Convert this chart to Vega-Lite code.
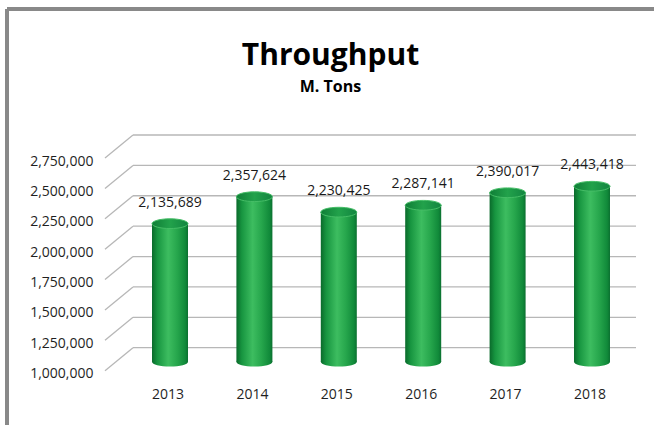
{
  "$schema": "https://vega.github.io/schema/vega-lite/v6.json",
  "width": 647,
  "height": 416,
  "autosize": {"type": "none"},
  "padding": {"left": 7, "top": 9, "right": 0, "bottom": 0},
  "background": "white",
  "title": {
    "text": "Throughput",
    "subtitle": "M. Tons",
    "anchor": "middle",
    "frame": "group",
    "offset": -86,
    "font": "Open Sans",
    "fontSize": 30,
    "fontWeight": "bold",
    "color": "#000000",
    "subtitleFont": "Open Sans",
    "subtitleFontSize": 16,
    "subtitleFontWeight": "bold",
    "subtitleColor": "#000000",
    "subtitlePadding": 8
  },
  "datasets": {
    "main": [
      {"year": "2013", "value": 2135689},
      {"year": "2014", "value": 2357624},
      {"year": "2015", "value": 2230425},
      {"year": "2016", "value": 2287141},
      {"year": "2017", "value": 2390017},
      {"year": "2018", "value": 2443418}
    ],
    "ticks": [
      {"v": 1000000}, {"v": 1250000}, {"v": 1500000}, {"v": 1750000},
      {"v": 2000000}, {"v": 2250000}, {"v": 2500000}, {"v": 2750000}
    ]
  },
  "resolve": {"scale": {"x": "independent"}},
  "layer": [
    {
      "data": {"name": "ticks"},
      "mark": {"type": "rule", "stroke": "#b7b7b7", "strokeWidth": 1.3},
      "encoding": {
        "x": {"datum": 0, "type": "quantitative", "scale": {"domain": [0, 1], "range": [126, 629]}, "axis": null},
        "x2": {"datum": 1},
        "y": {
          "field": "v", "type": "quantitative",
          "scale": {"domain": [1000000, 2750000], "range": [338.7, 126], "nice": false, "zero": false},
          "axis": {
            "values": [1000000, 1250000, 1500000, 1750000, 2000000, 2250000, 2500000, 2750000],
            "format": ",",
            "labelExpr": "format(datum.value, ',')",
            "title": null,
            "offset": -86,
            "ticks": false,
            "domain": false,
            "grid": false,
            "labelPadding": 0,
            "labelOffset": 26,
            "labelFont": "Open Sans",
            "labelFontSize": 14,
            "labelColor": "#1f1f1f",
            "labelOverlap": false
          }
        },
        "y2": {"field": "v"}
      }
    },
    {
      "data": {"name": "ticks"},
      "mark": {"type": "rule", "stroke": "#b7b7b7", "strokeWidth": 1.3, "x2Offset": -28, "y2Offset": 23},
      "encoding": {
        "x": {"datum": 0, "type": "quantitative", "scale": {"domain": [0, 1], "range": [126, 629]}, "axis": null},
        "x2": {"datum": 0},
        "y": {"field": "v", "type": "quantitative"},
        "y2": {"field": "v"}
      }
    },
    {
      "data": {"name": "main"},
      "layer": [
        {
          "mark": {
            "type": "point",
            "shape": "M-1,0A1,0.27,0,1,1,1,0A1,0.27,0,1,1,-1,0Z",
            "size": 1296,
            "filled": true,
            "opacity": 1,
            "yOffset": 14,
            "strokeWidth": 0,
            "fill": {"gradient": "linear", "x1": 0, "x2": 1, "y1": 0, "y2": 0, "stops": [
              {"offset": 0, "color": "#0a6a2b"}, {"offset": 0.15, "color": "#179540"},
              {"offset": 0.45, "color": "#3dbd60"}, {"offset": 0.7, "color": "#26a64c"},
              {"offset": 0.92, "color": "#118a3a"}, {"offset": 1, "color": "#0b7030"}]}
          },
          "encoding": {
            "x": {"field": "year", "type": "ordinal", "scale": {"range": [120.8, 627.2], "paddingInner": 0, "paddingOuter": 0}, "axis": {
              "title": null, "ticks": false, "domain": false, "grid": false,
              "offset": -31, "labelPadding": 0, "labelBaseline": "middle", "labelOffset": -2,
              "labelFont": "Open Sans", "labelFontSize": 14, "labelColor": "#1f1f1f", "labelAngle": 0
            }},
            "y": {"datum": 1000000, "type": "quantitative"}
          }
        },
        {
          "mark": {
            "type": "bar",
            "width": 36,
            "yOffset": 14,
            "y2Offset": 14,
            "fill": {"gradient": "linear", "x1": 0, "x2": 1, "y1": 0, "y2": 0, "stops": [
              {"offset": 0, "color": "#0a6a2b"}, {"offset": 0.15, "color": "#179540"},
              {"offset": 0.45, "color": "#3dbd60"}, {"offset": 0.7, "color": "#26a64c"},
              {"offset": 0.92, "color": "#118a3a"}, {"offset": 1, "color": "#0b7030"}]}
          },
          "encoding": {
            "x": {"field": "year", "type": "ordinal"},
            "y": {"field": "value", "type": "quantitative"},
            "y2": {"datum": 1000000}
          }
        },
        {
          "mark": {
            "type": "point",
            "shape": "M-1,0A1,0.27,0,1,1,1,0A1,0.27,0,1,1,-1,0Z",
            "size": 1296,
            "filled": true,
            "opacity": 1,
            "yOffset": 14,
            "stroke": "#45bd66",
            "strokeWidth": 1,
            "fill": {"gradient": "linear", "x1": 0, "x2": 1, "y1": 0, "y2": 0, "stops": [
              {"offset": 0, "color": "#0f7e36"}, {"offset": 0.5, "color": "#22a24b"}, {"offset": 1, "color": "#128540"}]}
          },
          "encoding": {
            "x": {"field": "year", "type": "ordinal"},
            "y": {"field": "value", "type": "quantitative"}
          }
        },
        {
          "mark": {"type": "text", "baseline": "middle", "yOffset": -7, "font": "Open Sans", "fontSize": 14, "fill": "#1a1a1a"},
          "encoding": {
            "x": {"field": "year", "type": "ordinal"},
            "y": {"field": "value", "type": "quantitative"},
            "text": {"field": "value", "type": "quantitative", "format": ","}
          }
        }
      ]
    }
  ],
  "config": {
    "numberFormat": ",",
    "view": {"stroke": "#898989", "strokeWidth": 4, "strokeDash": [647, 1063, 416, 0]},
    "font": "Open Sans"
  }
}
